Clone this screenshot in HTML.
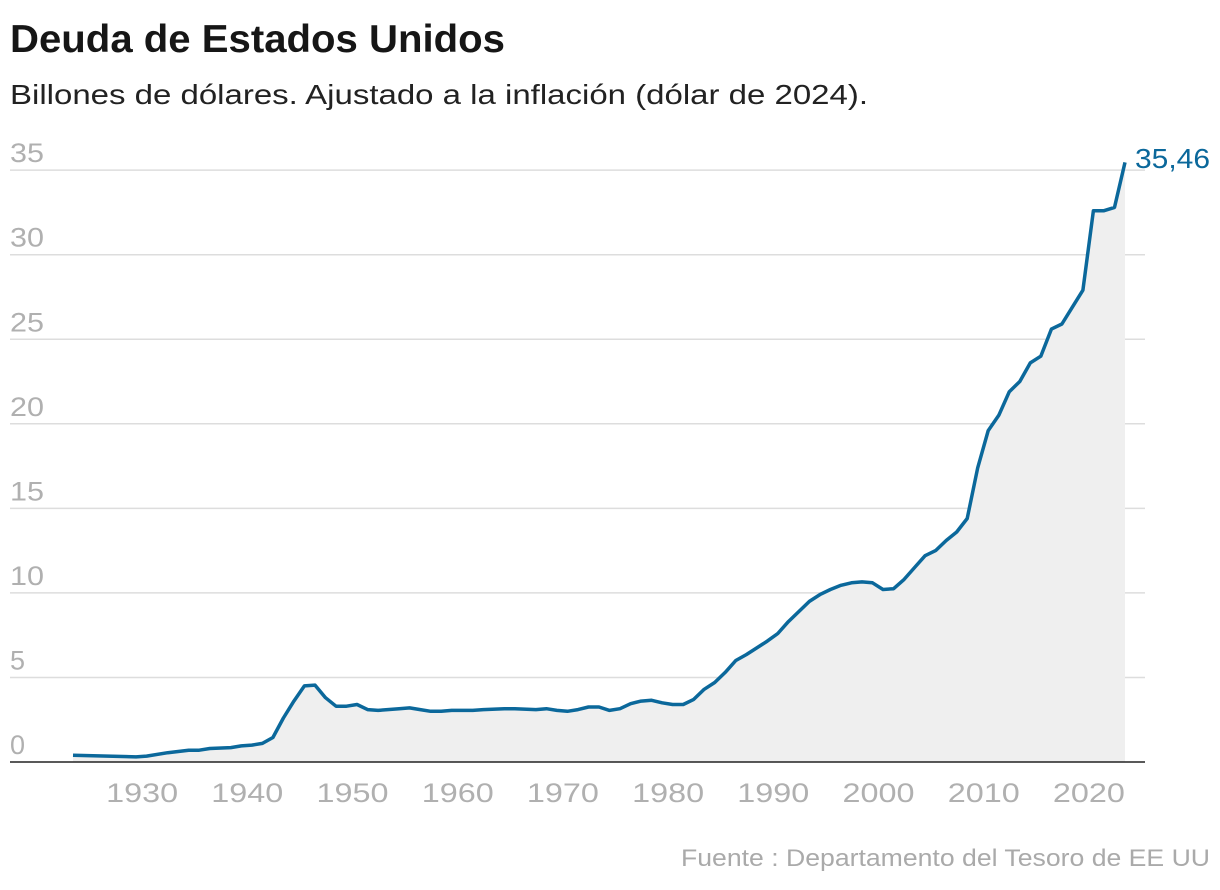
<!DOCTYPE html>
<html><head><meta charset="utf-8">
<style>
html,body{margin:0;padding:0;background:#fff;width:1220px;height:890px;overflow:hidden}
svg{display:block}
text{font-family:"Liberation Sans",sans-serif}
</style></head>
<body>
<svg id="s" width="1220" height="890" viewBox="0 0 1220 890">
<text x="10" y="52" font-size="39" font-weight="bold" fill="#161616" textLength="495" lengthAdjust="spacingAndGlyphs">Deuda de Estados Unidos</text>
<text x="10" y="104" font-size="28" fill="#222" textLength="858" lengthAdjust="spacingAndGlyphs">Billones de dólares. Ajustado a la inflación (dólar de 2024).</text>
<g id="grid"></g>
<path id="area" fill="#efefef"/>
<line x1="10" x2="1145" y1="762" y2="762" stroke="#222" stroke-width="1.5"/>
<path id="line" fill="none" stroke="#0b689b" stroke-width="3.5" stroke-linejoin="round"/>
<g id="xl"></g>
<text x="1135" y="168" font-size="28" fill="#0b689b" textLength="75" lengthAdjust="spacingAndGlyphs">35,46</text>
<text x="681" y="866" font-size="24" fill="#aaa" textLength="529" lengthAdjust="spacingAndGlyphs">Fuente : Departamento del Tesoro de EE UU</text>
</svg>
<script>
var d=[[1924,0.4],[1930,0.3],[1931,0.35],[1933,0.55],[1935,0.7],[1936,0.7],[1937,0.8],[1939,0.85],[1940,0.95],[1941,1.0],[1942,1.1],[1943,1.45],[1944,2.6],[1945,3.6],[1946,4.5],[1947,4.55],[1948,3.8],[1949,3.3],[1950,3.3],[1951,3.4],[1952,3.1],[1953,3.05],[1955,3.15],[1956,3.2],[1957,3.1],[1958,3.0],[1959,3.0],[1960,3.05],[1962,3.05],[1963,3.1],[1965,3.15],[1966,3.15],[1968,3.1],[1969,3.15],[1970,3.05],[1971,3.0],[1972,3.1],[1973,3.25],[1974,3.25],[1975,3.05],[1976,3.15],[1977,3.45],[1978,3.6],[1979,3.65],[1980,3.5],[1981,3.4],[1982,3.4],[1983,3.7],[1984,4.3],[1985,4.7],[1986,5.3],[1987,6.0],[1988,6.35],[1989,6.75],[1990,7.15],[1991,7.6],[1992,8.3],[1993,8.9],[1994,9.5],[1995,9.9],[1996,10.2],[1997,10.45],[1998,10.6],[1999,10.65],[2000,10.6],[2001,10.2],[2002,10.25],[2003,10.8],[2004,11.5],[2005,12.2],[2006,12.5],[2007,13.1],[2008,13.6],[2009,14.4],[2010,17.4],[2011,19.6],[2012,20.5],[2013,21.9],[2014,22.5],[2015,23.6],[2016,24.0],[2017,25.6],[2018,25.9],[2019,26.9],[2020,27.9],[2021,32.6],[2022,32.6],[2023,32.8],[2024,35.46]];
function X(y){return 73+(y-1924)*10.52}
function Y(v){return 762-v*16.91}
var ns="http://www.w3.org/2000/svg";
var p=d.map(function(a,i){return (i?"L":"M")+X(a[0]).toFixed(1)+","+Y(a[1]).toFixed(1)}).join("");
document.getElementById("line").setAttribute("d",p);
document.getElementById("area").setAttribute("d",p+"L"+X(2024)+",762L"+X(1924)+",762Z");
var g=document.getElementById("grid");
for(var v=0;v<=35;v+=5){
 if(v>0){var l=document.createElementNS(ns,"line");l.setAttribute("x1",10);l.setAttribute("x2",1145);l.setAttribute("y1",Y(v));l.setAttribute("y2",Y(v));l.setAttribute("stroke","#ddd");l.setAttribute("stroke-width","1.5");g.appendChild(l);}
 var t=document.createElementNS(ns,"text");t.setAttribute("x",10);t.setAttribute("y",Y(v)-8);t.setAttribute("font-size","27");t.setAttribute("fill","#b0b0b0");t.textContent=v;
 if(v>=10){t.setAttribute("textLength","34");t.setAttribute("lengthAdjust","spacingAndGlyphs");}
 g.appendChild(t);
}
var xl=document.getElementById("xl");
for(var y=1930;y<=2020;y+=10){var t=document.createElementNS(ns,"text");t.setAttribute("x",X(y)+6-36);t.setAttribute("y",802);t.setAttribute("font-size","27");t.setAttribute("fill","#b0b0b0");t.setAttribute("textLength","72");t.setAttribute("lengthAdjust","spacingAndGlyphs");t.textContent=y;xl.appendChild(t);}
</script>
</body></html>
